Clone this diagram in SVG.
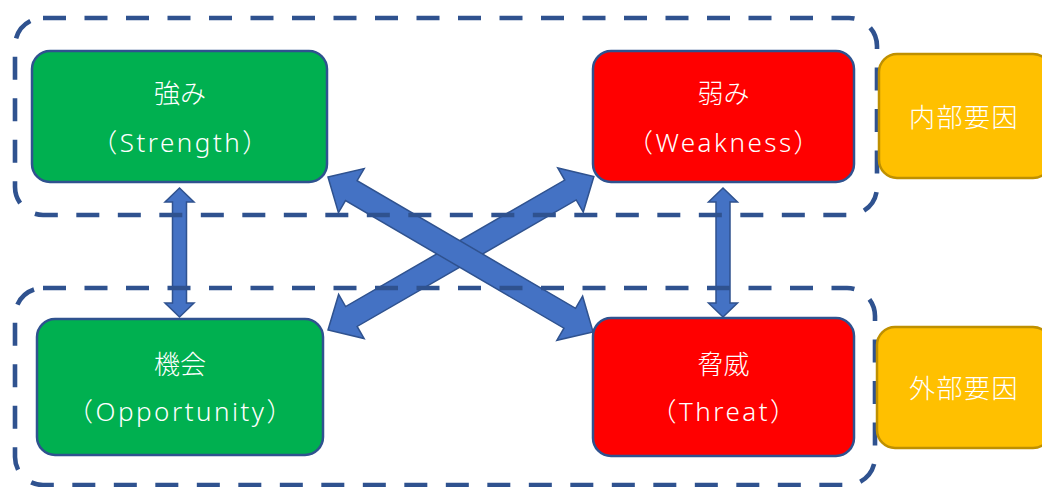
<svg xmlns="http://www.w3.org/2000/svg" width="1042" height="487" viewBox="0 0 1042 487">
<style>
.grp{fill:none;stroke:#2F528F;stroke-width:4.6;stroke-dasharray:23 18.5}
.g{fill:#00B050;stroke:#2F528F;stroke-width:2.5}
.r{fill:#FF0000;stroke:#2F528F;stroke-width:2.5}
.y{fill:#FFC000;stroke:#BF9000;stroke-width:2.5}
.arr{fill:#4472C4;stroke:#2F528F;stroke-width:1.5;stroke-linejoin:miter}
text{fill:#FFFFFF;font-family:"Noto Sans CJK JP","Noto Sans",sans-serif;font-size:26px;font-weight:300;text-anchor:middle}
text.en{font-family:"Noto Sans","Noto Sans CJK JP",sans-serif;font-size:26px;letter-spacing:2.5px}
text.f{letter-spacing:1.5px}
</style>
<defs>
<polygon id="dbl" points="0,0 27,-25.5 27,-11.5 280,-11.5 280,-25.5 307,0 280,25.5 280,11.5 27,11.5 27,25.5"/>
<polygon id="vert" points="0,0 14.5,14 7,14 7,115 14.5,115 0,129 -14.5,115 -7,115 -7,14 -14.5,14"/>
</defs>
<g id="connectors">
<use href="#vert" class="arr" x="179.5" y="188"/>
<use href="#vert" class="arr" x="723" y="188"/>
<use href="#dbl" class="arr" transform="translate(328,330) rotate(-30)"/>
<use href="#dbl" class="arr" transform="translate(328,177) rotate(30.3)"/>
</g>
<g id="internal-group"><rect class="grp" x="15" y="18" width="862" height="197" rx="28"/></g>
<g id="external-group"><rect class="grp" x="15" y="288" width="860" height="197" rx="28"/></g>
<g id="strength">
<rect class="g" x="32" y="51" width="295" height="131" rx="18"/>
<text x="180" y="103">強み</text>
<text class="en" x="181" y="152">（Strength）</text>
</g>
<g id="weakness">
<rect class="r" x="593" y="51" width="261" height="131" rx="18"/>
<text x="723.5" y="103">弱み</text>
<text class="en" x="724.5" y="152">（Weakness）</text>
</g>
<g id="opportunity">
<rect class="g" x="37" y="319" width="286" height="136" rx="18"/>
<text x="180" y="374">機会</text>
<text class="en" x="181" y="421">（Opportunity）</text>
</g>
<g id="threat">
<rect class="r" x="593" y="318" width="261" height="138" rx="18"/>
<text x="723.5" y="374">脅威</text>
<text class="en" x="724.5" y="421">（Threat）</text>
</g>
<g id="internal-factor">
<rect class="y" x="879" y="54" width="172" height="124" rx="18"/>
<text class="f" x="964" y="127">内部要因</text>
</g>
<g id="external-factor">
<rect class="y" x="877" y="327" width="174" height="121" rx="18"/>
<text class="f" x="964" y="398">外部要因</text>
</g>
</svg>
